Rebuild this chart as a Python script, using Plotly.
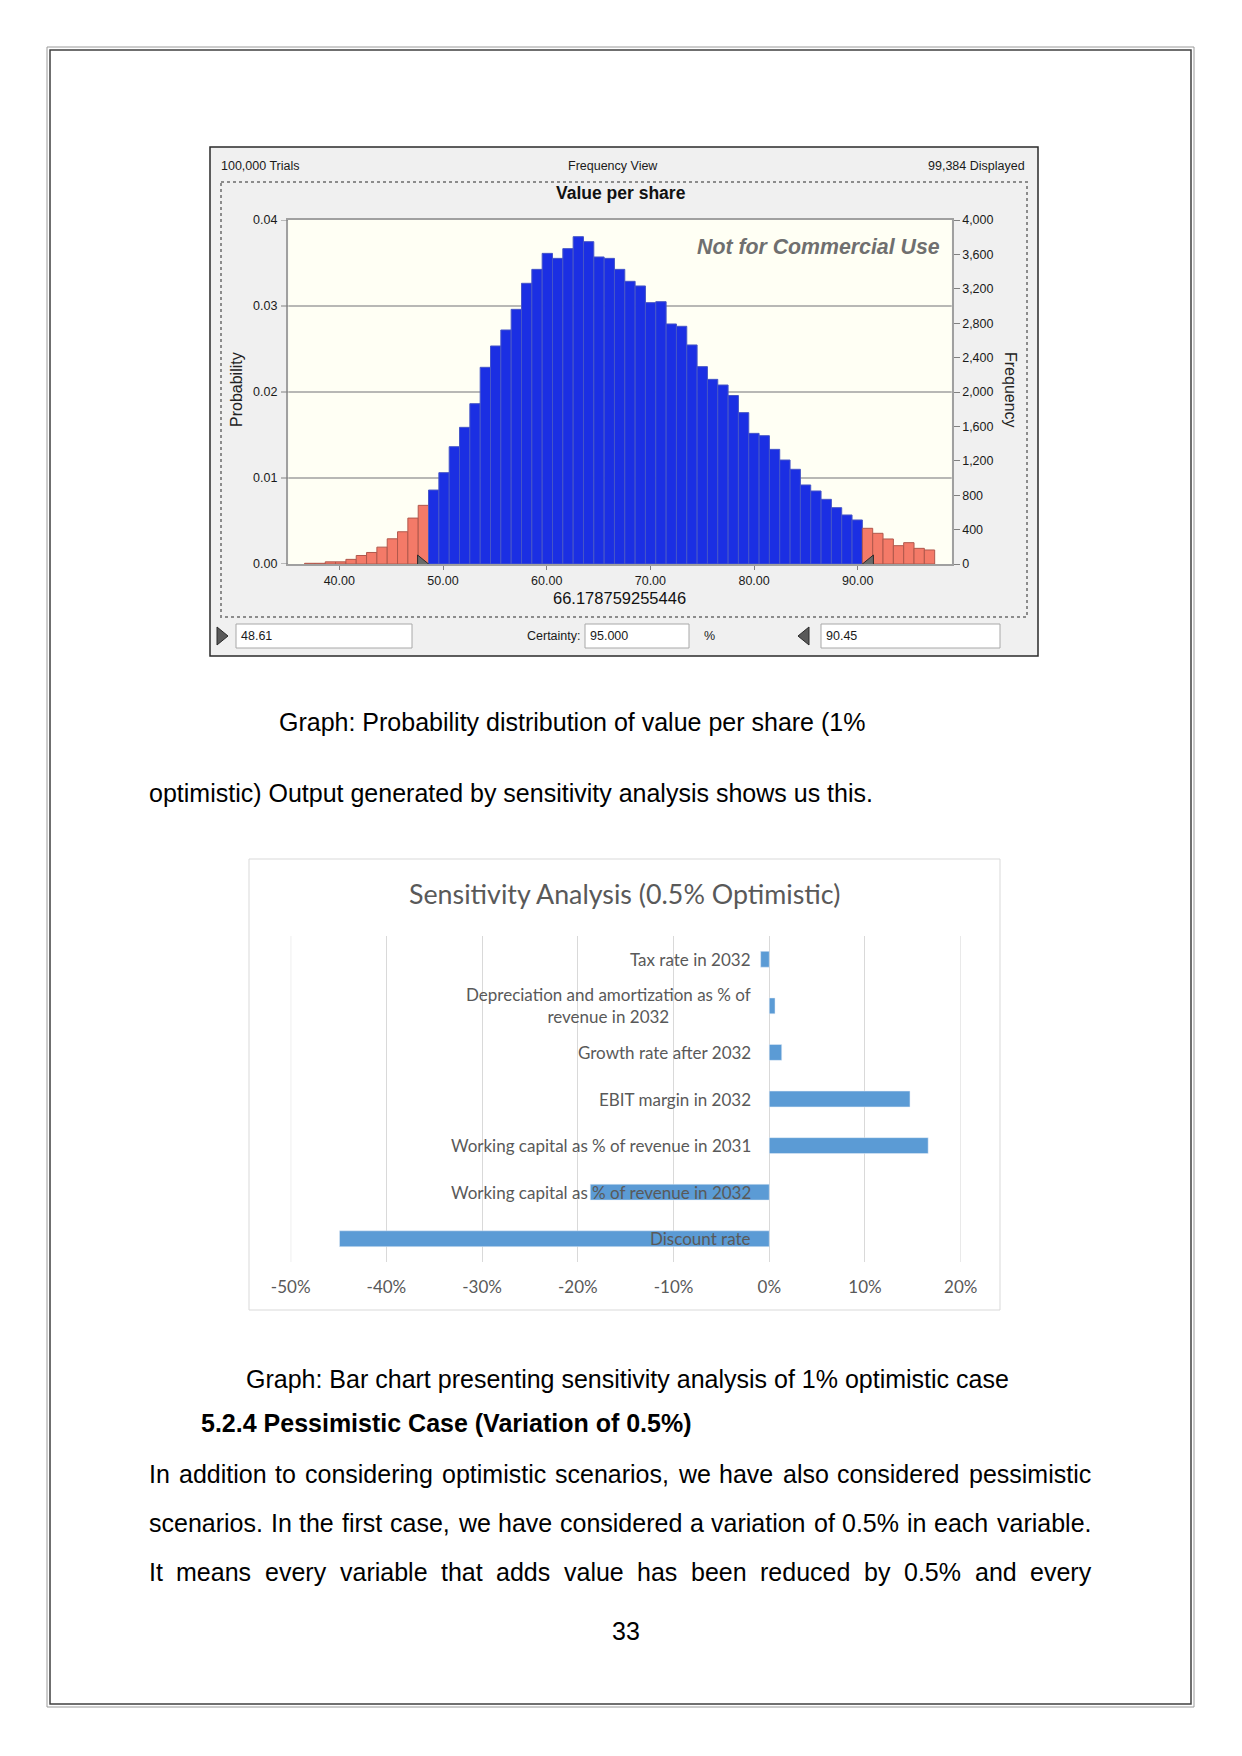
import plotly.graph_objects as go

W, H = 1242, 1756

# ---------------- Data: Crystal Ball frequency view ----------------
bin_start = 36.65          # left edge of first bin (value per share)
bin_width = 0.9962
lower_cut = 48.61
upper_cut = 90.45
certainty_txt = "95.000"
mean_txt = "66.178759255446"
trials_txt = "100,000 Trials"
displayed_txt = "99,384 Displayed"
view_txt = "Frequency View"
hist_title = "Value per share"

freq_left_tail = [8, 8, 25, 25, 54, 99, 134, 196, 293, 375, 534, 682]
freq_center = [860, 1062, 1364, 1589, 1864, 2287, 2535, 2721, 2961, 3264,
               3426, 3612, 3554, 3667, 3806, 3748, 3570, 3554, 3426, 3287,
               3233, 3039, 3050, 2791, 2764, 2547, 2295, 2147, 2081, 1959,
               1760, 1519, 1492, 1333, 1209, 1101, 919, 849, 752, 655, 570, 512]
freq_right_tail = [415, 357, 291, 213, 248, 182, 163]

hist_x_ticks = [40, 50, 60, 70, 80, 90]
prob_ticks = [0.00, 0.01, 0.02, 0.03, 0.04]
freq_ticks = [0, 400, 800, 1200, 1600, 2000, 2400, 2800, 3200, 3600, 4000]
n_trials = 100000

# ---------------- Data: sensitivity bar chart ----------------
sens_title = "Sensitivity Analysis (0.5% Optimistic)"
categories = ["Tax rate in 2032",
              "Depreciation and amortization as % of revenue in 2032",
              "Growth rate after 2032",
              "EBIT margin in 2032",
              "Working capital as % of revenue in 2031",
              "Working capital as % of revenue in 2032",
              "Discount rate"]
category_labels = ["Tax rate in 2032",
                   "Depreciation and amortization as % of<br>revenue in 2032",
                   "Growth rate after 2032",
                   "EBIT margin in 2032",
                   "Working capital as % of revenue in 2031",
                   "Working capital as % of revenue in 2032",
                   "Discount rate"]
sens_values = [-0.009, 0.006, 0.013, 0.147, 0.166, -0.187, -0.449]
sens_ticks = [-0.5, -0.4, -0.3, -0.2, -0.1, 0.0, 0.1, 0.2]
sens_ticktext = ["-50%", "-40%", "-30%", "-20%", "-10%", "0%", "10%", "20%"]

# ---------------- Page text ----------------
caption1a = "Graph: Probability distribution of value per share (1%"
caption1b = "optimistic) Output generated by sensitivity analysis shows us this."
caption2 = "Graph: Bar chart presenting sensitivity analysis of 1% optimistic case"
heading = "5.2.4 Pessimistic Case (Variation of 0.5%)"
para = ["In addition to considering optimistic scenarios, we have also considered pessimistic",
        "scenarios. In the first case, we have considered a variation of 0.5% in each variable.",
        "It means every variable that adds value has been reduced by 0.5% and every"]
page_no = "33"

# ---------------- helpers ----------------
def X(px):
    return px / W

def Y(py):
    return 1 - py / H

anns = []
shapes = []

def ann(text, x, y, size=25, color="#000000", xanchor="left", yanchor="middle",
        family="Liberation Sans", **kw):
    d = dict(text=text, x=X(x), y=Y(y), xref="paper", yref="paper",
             xanchor=xanchor, yanchor=yanchor, showarrow=False,
             font=dict(size=size, color=color, family=family),
             borderpad=0, borderwidth=0)
    d.update(kw)
    anns.append(d)

def rect(x0, y0, x1, y1, line_color=None, fill=None, width=1, dash=None, layer="below"):
    line = dict(width=width if line_color else 0, color=line_color or "rgba(0,0,0,0)")
    if dash:
        line["dash"] = dash
    shapes.append(dict(type="rect", xref="paper", yref="paper",
                       x0=X(x0), x1=X(x1), y0=Y(y0), y1=Y(y1),
                       line=line, fillcolor=fill or "rgba(0,0,0,0)", layer=layer))

# Arial / Liberation Sans advance widths (1/1000 em)
AW = {' ': 278, ',': 278, '.': 278, '%': 889, '(': 333, ')': 333, ':': 278,
      'a': 556, 'b': 556, 'c': 500, 'd': 556, 'e': 556, 'f': 278, 'g': 556, 'h': 556,
      'i': 222, 'j': 222, 'k': 500, 'l': 222, 'm': 833, 'n': 556, 'o': 556, 'p': 556,
      'q': 556, 'r': 333, 's': 500, 't': 278, 'u': 556, 'v': 500, 'w': 722, 'x': 500,
      'y': 500, 'z': 500, 'I': 278, 'T': 611}

def wwidth(word, size):
    return sum(AW.get(c, 556) for c in word) * size / 1000.0

def justified(line, y, left=149, right=1091, size=25):
    words = line.split(" ")
    widths = [wwidth(w, size) for w in words]
    gap = (right - left - sum(widths)) / (len(words) - 1)
    x = left
    for w, wd in zip(words, widths):
        ann(w, x, y, size=size)
        x += wd + gap

# ---------------- Page frame ----------------
rect(47, 47, 1194, 1707, line_color="#9a9a9a", width=1)
rect(50, 50, 1191, 1704, line_color="#404040", width=1.5)

# ---------------- Crystal Ball window ----------------
rect(210, 147, 1038, 656, line_color="#2a2a2a", fill="#f0f0f0", width=1.5)
rect(221, 182, 1027, 617, line_color="#8c8c8c", width=2, dash="dot")
ann(trials_txt, 221, 166, size=12.5, color="#1a1a1a")
ann(view_txt, 613, 166, size=12.5, color="#1a1a1a", xanchor="center")
ann(displayed_txt, 1025, 166, size=12.5, color="#1a1a1a", xanchor="right")
ann("<b>" + hist_title + "</b>", 621, 193, size=17.5, color="#111111", xanchor="center")
ann("Probability", 236, 390, size=16, color="#222222", xanchor="center", textangle=-90)
ann("Frequency", 1011, 390, size=16, color="#222222", xanchor="center", textangle=90)
ann(mean_txt, 619, 598, size=16.5, color="#111111", xanchor="center")
ann("<b><i>Not for Commercial Use</i></b>", 940, 247, size=21.3, color="#6f6f6f",
    xanchor="right")

# bottom controls
rect(236, 624, 412, 648, line_color="#a8a8a8", fill="#ffffff", width=1)
rect(585, 624, 689, 648, line_color="#a8a8a8", fill="#ffffff", width=1)
rect(821, 624, 1000, 648, line_color="#a8a8a8", fill="#ffffff", width=1)
ann(f"{lower_cut:.2f}", 241, 636, size=12.5, color="#1a1a1a")
ann(certainty_txt, 590, 636, size=12.5, color="#1a1a1a")
ann(f"{upper_cut:.2f}", 826, 636, size=12.5, color="#1a1a1a")
ann("Certainty:", 581, 636, size=12.5, color="#1a1a1a", xanchor="right")
ann("%", 704, 636, size=12.5, color="#1a1a1a")

def tri_path(pts):
    return "M " + " L ".join(f"{X(a):.5f},{Y(b):.5f}" for a, b in pts) + " Z"

shapes.append(dict(type="path", xref="paper", yref="paper",
                   path=tri_path([(217, 627), (228, 636), (217, 645)]),
                   fillcolor="#5a5a5a", line=dict(color="#2a2a2a", width=1), layer="above"))
shapes.append(dict(type="path", xref="paper", yref="paper",
                   path=tri_path([(809, 627), (798, 636), (809, 645)]),
                   fillcolor="#5a5a5a", line=dict(color="#2a2a2a", width=1), layer="above"))

# plot-area background (ivory) and probability gridlines (through the y scale)
shapes.append(dict(type="rect", xref="x domain", yref="y domain", x0=0, x1=1, y0=0, y1=1,
                   fillcolor="#fffff4", line=dict(width=0), layer="below"))
for p in prob_ticks:
    yv = p * n_trials
    if 0 < p < max(prob_ticks):
        shapes.append(dict(type="line", xref="x domain", yref="y", x0=0, x1=1, y0=yv, y1=yv,
                           line=dict(color="#a0a0a0", width=1.5), layer="below"))
    # left tick mark and label (probability scale)
    shapes.append(dict(type="line", xref="paper", yref="y", x0=X(281), x1=X(288), y0=yv, y1=yv,
                       line=dict(color="#808080", width=1), layer="above"))
    anns.append(dict(text=f"{p:.2f}", x=0, y=yv, xref="x domain", yref="y",
                     xanchor="right", yanchor="middle", xshift=-11, showarrow=False,
                     font=dict(family="Liberation Sans", size=12.5, color="#1a1a1a"),
                     borderpad=0, borderwidth=0))

# cut markers on the axis, anchored at the data values
shapes.append(dict(type="path", xref="x", yref="y", xsizemode="pixel", ysizemode="pixel",
                   xanchor=lower_cut, yanchor=0, path="M -11,9 L 0,0 L -11,-9 Z",
                   fillcolor="#6a6a6a", line=dict(color="#2a2a2a", width=1), layer="above"))
shapes.append(dict(type="path", xref="x", yref="y", xsizemode="pixel", ysizemode="pixel",
                   xanchor=upper_cut, yanchor=0, path="M 11,9 L 0,0 L 11,-9 Z",
                   fillcolor="#6a6a6a", line=dict(color="#2a2a2a", width=1), layer="above"))

all_freq = freq_left_tail + freq_center + freq_right_tail
centers = [bin_start + bin_width * (i + 0.5) for i in range(len(all_freq))]
nL, nC = len(freq_left_tail), len(freq_center)

fig = go.Figure()
red = dict(color="#f47a68", line=dict(color="#b0584c", width=1))
blue = dict(color="#1b2fe3", line=dict(color="#4656c8", width=1))
fig.add_trace(go.Bar(x=centers[:nL], y=freq_left_tail, width=bin_width, marker=red,
                     xaxis="x", yaxis="y", showlegend=False))
fig.add_trace(go.Bar(x=centers[nL:nL + nC], y=freq_center, width=bin_width, marker=blue,
                     xaxis="x", yaxis="y", showlegend=False))
fig.add_trace(go.Bar(x=centers[nL + nC:], y=freq_right_tail, width=bin_width, marker=red,
                     xaxis="x", yaxis="y", showlegend=False))

# ---------------- Sensitivity chart ----------------
rect(249, 859, 1000, 1310, line_color="#d9d9d9", fill="#ffffff", width=1)
ann(sens_title, 624, 894, size=26.8, color="#595959", xanchor="center", family="Lato")
# edge gridlines (plotly omits gridlines at the range ends)
for tv in (sens_ticks[0], sens_ticks[-1]):
    shapes.append(dict(type="line", xref="x2", yref="y2 domain", x0=tv, x1=tv, y0=0, y1=1,
                       line=dict(color="#d9d9d9", width=1), layer="below"))

fig.add_trace(go.Bar(x=sens_values, y=categories, orientation="h", width=0.34,
                     marker=dict(color="#5b9bd5"), xaxis="x2", yaxis="y2",
                     showlegend=False))
for cat, lab in zip(categories, category_labels):
    anns.append(dict(text=lab, x=0, y=cat, xref="x2", yref="y2", xanchor="right",
                     yanchor="middle", xshift=-18, showarrow=False, align="center",
                     font=dict(size=17, color="#595959", family="Lato"),
                     borderpad=0, borderwidth=0))

# ---------------- Page text ----------------
ann(caption1a, 279, 722, size=25)
ann(caption1b, 149, 793, size=25)
ann(caption2, 246, 1379, size=25)
ann("<b>" + heading + "</b>", 201, 1423, size=25)
justified(para[0], 1473.5)
justified(para[1], 1523)
justified(para[2], 1572)
ann(page_no, 626, 1631, size=25, xanchor="center")

axis_font = dict(family="Liberation Sans", size=12.5, color="#1a1a1a")
fig.update_layout(
    width=W, height=H, autosize=False,
    margin=dict(l=0, r=0, t=0, b=0, pad=0, autoexpand=False),
    paper_bgcolor="#ffffff", plot_bgcolor="rgba(0,0,0,0)",
    showlegend=False, barmode="overlay",
    xaxis=dict(domain=[X(288.3), X(951.7)], range=[35.08, 99.06], anchor="y",
               tickvals=hist_x_ticks, ticktext=[f"{v:.2f}" for v in hist_x_ticks],
               ticks="outside", ticklen=4, tickcolor="#808080", showgrid=False,
               showline=True, mirror=True, linecolor="#a0a0a0", linewidth=2,
               zeroline=False, tickfont=axis_font, fixedrange=True, automargin=False),
    yaxis=dict(domain=[Y(564), Y(220)], range=[0, max(prob_ticks) * n_trials], anchor="x",
               side="right", tickvals=freq_ticks, ticktext=[f"{v:,}" for v in freq_ticks],
               ticks="outside", ticklen=6, tickcolor="#808080", showgrid=False,
               showline=True, mirror=True, linecolor="#a0a0a0", linewidth=2,
               zeroline=False, tickfont=axis_font, fixedrange=True, automargin=False),
    xaxis2=dict(domain=[X(290.7), X(960.7)], range=[-0.5, 0.2], anchor="y2",
                tickvals=sens_ticks, ticktext=sens_ticktext,
                ticks="outside", ticklen=10, tickcolor="rgba(0,0,0,0)",
                showgrid=True, gridcolor="#d9d9d9", gridwidth=1, zeroline=False,
                showline=False, automargin=False,
                tickfont=dict(family="Lato", size=17, color="#595959"), fixedrange=True),
    yaxis2=dict(domain=[Y(1262), Y(936)], anchor="x2", type="category",
                categoryorder="array", categoryarray=categories,
                range=[len(categories) - 0.5, -0.5], showticklabels=False,
                showgrid=False, zeroline=False, showline=False, fixedrange=True,
                automargin=False),
    annotations=anns, shapes=shapes,
)

fig.write_html("out.html", config={"displayModeBar": False},
               post_script="document.body.style.margin='0';document.body.style.overflow='hidden';")
